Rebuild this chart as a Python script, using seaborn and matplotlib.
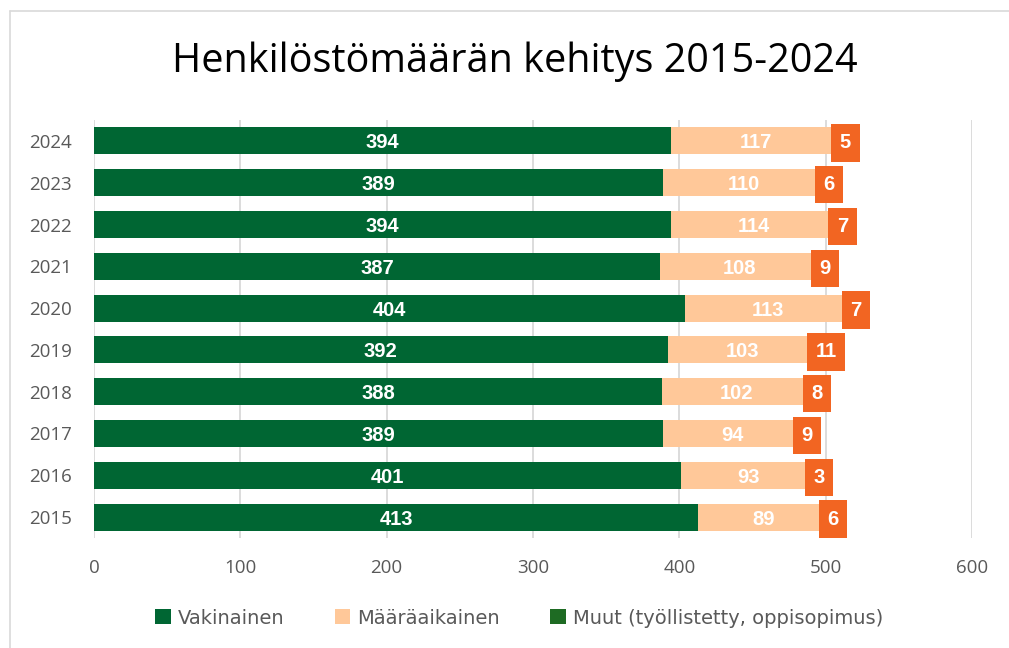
import matplotlib
matplotlib.use("Agg")
import matplotlib.pyplot as plt
import seaborn as sns
import pandas as pd
import numpy as np
from matplotlib.patches import Patch
from matplotlib.lines import Line2D
from matplotlib.path import Path

years = ["2024", "2023", "2022", "2021", "2020", "2019", "2018", "2017", "2016", "2015"]
vakinainen = [394, 389, 394, 387, 404, 392, 388, 389, 401, 413]
maaraaikainen = [117, 110, 114, 108, 113, 103, 102, 94, 93, 89]
muut = [5, 6, 7, 9, 7, 11, 8, 9, 3, 6]
series_names = ["Vakinainen", "Määräaikainen", "Muut (työllistetty, oppisopimus)"]
xticks = [0, 100, 200, 300, 400, 500, 600]

c_vak = "#006633"
c_maa = "#FFC899"
c_muut = "#1E6B23"
c_box = "#F26522"
gray = "#595959"

df = pd.DataFrame({"year": years, "vak": vakinainen, "maa": maaraaikainen, "muut": muut})
df["cum2"] = df["vak"] + df["maa"]
df["cum3"] = df["cum2"] + df["muut"]

sns.set_theme(style="white")
plt.rcParams["font.family"] = ["DejaVu Sans"]


class TallBox:
    """Label box with separate horizontal / vertical padding."""
    def __init__(self, padx=0.42, halfh=0.9):
        self.padx = padx
        self.halfh = halfh

    def __call__(self, x0, y0, width, height, mutation_size):
        cx = x0 + width / 2
        cy = y0 + height / 2
        hw = width / 2 + self.padx * mutation_size
        hh = self.halfh * mutation_size
        verts = [(cx - hw, cy - hh), (cx + hw, cy - hh), (cx + hw, cy + hh),
                 (cx - hw, cy + hh), (cx - hw, cy - hh)]
        return Path(verts, closed=True)


fig = plt.figure(figsize=(10.09, 6.48), dpi=100)
ax = fig.add_axes([94 / 1009, 1 - 538 / 648, (972 - 94) / 1009, (538 - 120) / 648])

bw = 0.65
sns.barplot(data=df, x="cum3", y="year", order=years, orient="h", color=c_muut,
            width=bw, saturation=1, ax=ax, zorder=3, linewidth=0)
sns.barplot(data=df, x="cum2", y="year", order=years, orient="h", color=c_maa,
            width=bw, saturation=1, ax=ax, zorder=3, linewidth=0)
sns.barplot(data=df, x="vak", y="year", order=years, orient="h", color=c_vak,
            width=bw, saturation=1, ax=ax, zorder=3, linewidth=0)

lab_font = ["Liberation Sans", "DejaVu Sans"]
fs = 14.5
for i, row in df.iterrows():
    ax.text(row["vak"] / 2, i, str(row["vak"]), ha="center", va="center_baseline",
            color="white", fontsize=fs, fontweight="bold", family=lab_font, zorder=5)
    ax.text(row["vak"] + row["maa"] / 2, i, str(row["maa"]), ha="center", va="center_baseline",
            color="white", fontsize=fs, fontweight="bold", family=lab_font, zorder=5)
    ax.text(row["cum2"] + row["muut"] / 2, i, str(row["muut"]), ha="center", va="center_baseline",
            color="white", fontsize=fs, fontweight="bold", family=lab_font, zorder=6,
            bbox=dict(boxstyle=TallBox(padx=0.42, halfh=0.93), fc=c_box, ec="none"))

ax.set_xlim(0, 600)
ax.set_ylim(9.5, -0.5)
ax.set_xticks(xticks)
ax.set_xticklabels([str(t) for t in xticks])
ax.set_xlabel("")
ax.set_ylabel("")
for s in ax.spines.values():
    s.set_visible(False)
ax.grid(axis="x", color="#D9D9D9", linewidth=1.3, zorder=0)
ax.grid(axis="y", visible=False)
ax.tick_params(axis="x", length=0, pad=15, labelsize=13.5, labelcolor=gray)
ax.tick_params(axis="y", length=0, pad=16, labelsize=13.5, labelcolor=gray)
for t in ax.get_xticklabels() + ax.get_yticklabels():
    t.set_family(["Open Sans", "DejaVu Sans"])

fig.text(515 / 1009, 1 - 62 / 648, "Henkilöstömäärän kehitys 2015-2024", ha="center", va="center",
         fontsize=28.5, color="black", family=["Open Sans", "DejaVu Sans"])

handles = [Patch(facecolor=c_vak, edgecolor="none"),
           Patch(facecolor=c_maa, edgecolor="none"),
           Patch(facecolor=c_muut, edgecolor="none")]
leg = fig.legend(handles, series_names, loc="center", bbox_to_anchor=(519 / 1009, 1 - 618 / 648),
                 ncol=3, frameon=False, handlelength=0.8, handleheight=0.8, handletextpad=0.35,
                 columnspacing=2.6, prop={"family": ["Liberation Sans Narrow", "DejaVu Sans"], "size": 14})
for t in leg.get_texts():
    t.set_color(gray)

# chart-area border (partially visible)
fig.add_artist(Line2D([10 / 1009, 10 / 1009], [0, 1 - 11 / 648], transform=fig.transFigure,
                      color="#D9D9D9", linewidth=1.2))
fig.add_artist(Line2D([10 / 1009, 1], [1 - 11 / 648, 1 - 11 / 648], transform=fig.transFigure,
                      color="#D9D9D9", linewidth=1.2))

fig.savefig("out.png", dpi=100)
